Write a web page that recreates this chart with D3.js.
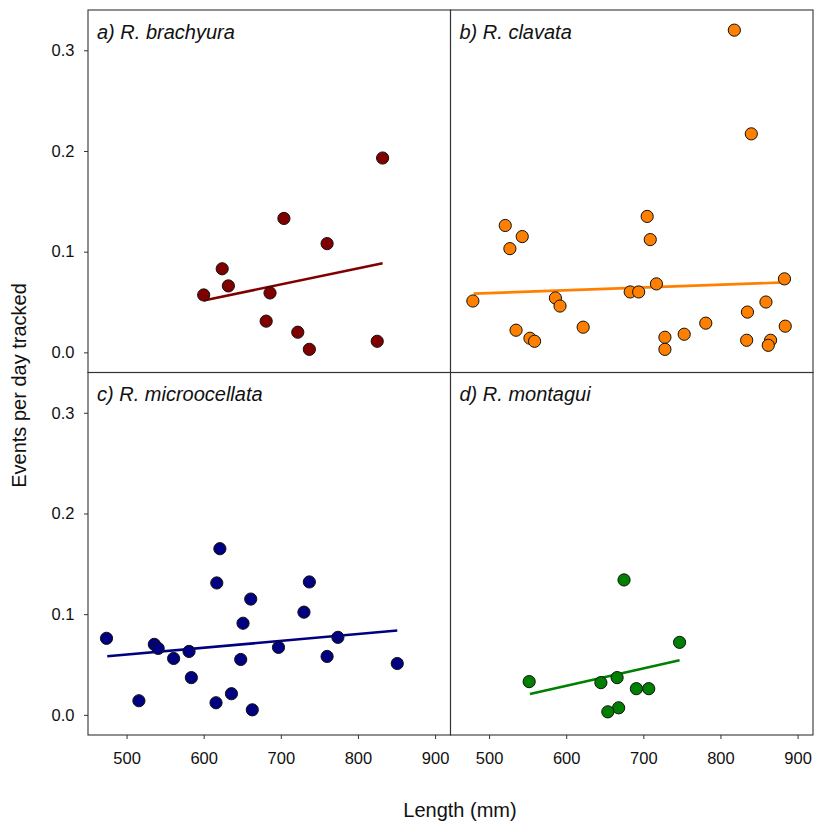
<!doctype html>
<html>
<head>
<meta charset="utf-8">
<title>Events per day tracked vs length</title>
<script src="https://cdn.jsdelivr.net/npm/d3@7"></script>
<style>
  body { margin: 0; background: #fff; }
  svg { display: block; font-family: "Liberation Sans", Arial, sans-serif; }
  .tick text { font-size: 16.5px; fill: #111; }
  .tick line { stroke: #333; }
</style>
</head>
<body>
<svg id="chart" width="816" height="821"></svg>
<script>
// species panels, in reading order
var species = ["a) R. brachyura", "b) R. clavata", "c) R. microocellata", "d) R. montagui"];
var colors = ["#800000", "#ff8000", "#000080", "#008000"];

// length (mm) and events per day tracked
var lenA = [600, 624, 632, 704, 760, 832, 686, 681, 722, 737, 825];
var evtA = [0.057, 0.083, 0.066, 0.133, 0.108, 0.193, 0.059, 0.031, 0.020, 0.003, 0.011];

var lenB = [818, 840, 521, 543, 527, 705, 709, 883, 479, 586, 592, 683, 694, 717,
            535, 553, 559, 622, 728, 728, 753, 781, 835, 859, 834, 865, 862, 884];
var evtB = [0.320, 0.217, 0.126, 0.115, 0.103, 0.135, 0.112, 0.073, 0.051, 0.054, 0.046, 0.060, 0.060, 0.068,
            0.022, 0.014, 0.011, 0.025, 0.015, 0.003, 0.018, 0.029, 0.040, 0.050, 0.012, 0.012, 0.007, 0.026];

var lenC = [474, 516, 536, 541, 561, 581, 584, 617, 621, 616, 636, 661, 651, 648, 663, 697, 730, 737, 760, 774, 851];
var evtC = [0.076, 0.014, 0.070, 0.066, 0.056, 0.063, 0.037, 0.131, 0.165, 0.012, 0.021, 0.115, 0.091, 0.055, 0.005, 0.067, 0.102, 0.132, 0.058, 0.077, 0.051];

var lenD = [675, 747, 552, 645, 666, 691, 707, 668, 654];
var evtD = [0.134, 0.072, 0.033, 0.032, 0.037, 0.026, 0.026, 0.007, 0.003];

// fitted line end points [length, events]
var fitA = [[600, 0.0516], [832, 0.0884]];
var fitB = [[480, 0.0583], [883, 0.0695]];
var fitC = [[475, 0.0582], [851, 0.0837]];
var fitD = [[553, 0.0208], [747, 0.0543]];

var xTicks = [500, 600, 700, 800, 900];
var yTicks = [0.0, 0.1, 0.2, 0.3];

var panels = [
  { label: species[0], color: colors[0], len: lenA, evt: evtA, fit: fitA, col: 0, row: 0 },
  { label: species[1], color: colors[1], len: lenB, evt: evtB, fit: fitB, col: 1, row: 0 },
  { label: species[2], color: colors[2], len: lenC, evt: evtC, fit: fitC, col: 0, row: 1 },
  { label: species[3], color: colors[3], len: lenD, evt: evtD, fit: fitD, col: 1, row: 1 }
];

var svg = d3.select("#chart");
var marginLeft = 88, marginTop = 10, W = 362.5, H = 362.5;

var x = d3.scaleLinear().domain([450, 920]).range([0, W]);
var y = d3.scaleLinear().domain([-0.02, 0.34]).range([H, 0]);

panels.forEach(function(p) {
  var g = svg.append("g")
    .attr("transform", "translate(" + (marginLeft + p.col * W) + "," + (marginTop + p.row * H) + ")");

  if (p.col === 0) {
    g.append("g")
      .call(d3.axisLeft(y).tickValues(yTicks).tickFormat(d3.format(".1f")).tickSize(4).tickPadding(9.5))
      .call(function(a) { a.select(".domain").remove(); });
  }
  if (p.row === 1) {
    g.append("g")
      .attr("transform", "translate(0," + H + ")")
      .call(d3.axisBottom(x).tickValues(xTicks).tickSize(4).tickPadding(13.5))
      .call(function(a) { a.select(".domain").remove(); });
  }

  g.append("rect")
    .attr("width", W).attr("height", H)
    .attr("fill", "none").attr("stroke", "#333").attr("stroke-width", 1.1);

  var line = d3.line().x(function(d) { return x(d[0]); }).y(function(d) { return y(d[1]); });
  g.append("path")
    .attr("d", line(p.fit))
    .attr("fill", "none")
    .attr("stroke", p.color)
    .attr("stroke-width", 2.6);

  g.selectAll("circle")
    .data(p.len.map(function(v, i) { return [v, p.evt[i]]; }))
    .join("circle")
    .attr("cx", function(d) { return x(d[0]); })
    .attr("cy", function(d) { return y(d[1]); })
    .attr("r", 6.1)
    .attr("fill", p.color)
    .attr("stroke", "#111")
    .attr("stroke-width", 1);

  g.append("text")
    .attr("x", 9).attr("y", 28.5)
    .attr("font-size", "20px")
    .attr("font-style", "italic")
    .attr("fill", "#111")
    .text(p.label);
});

svg.append("text")
  .attr("transform", "translate(26,385.5) rotate(-90)")
  .attr("text-anchor", "middle")
  .attr("font-size", "20px")
  .attr("fill", "#111")
  .text("Events per day tracked");

svg.append("text")
  .attr("x", 460).attr("y", 817)
  .attr("text-anchor", "middle")
  .attr("font-size", "20px")
  .attr("fill", "#111")
  .text("Length (mm)");
</script>
</body>
</html>
